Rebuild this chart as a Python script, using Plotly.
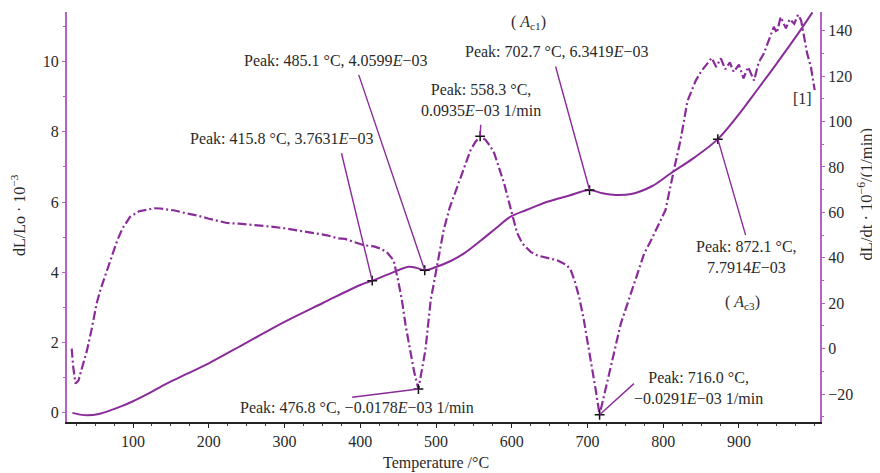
import plotly.graph_objects as go

# ---- data ----
temp_L = [20, 30, 40, 55, 70, 85, 100, 120, 145, 170, 200, 250, 300, 350, 400, 415.8, 440,
          464, 475, 485.1, 500, 520, 537, 560, 580, 598, 620, 647, 675, 702.7, 720, 737,
          758, 785, 810, 840, 872.1, 900, 924, 950, 975, 997]
dL_Lo = [0.0, -0.05, -0.07, -0.03, 0.07, 0.19, 0.33, 0.55, 0.84, 1.1, 1.41, 2.0, 2.59, 3.12,
         3.64, 3.763, 3.97, 4.16, 4.12, 4.06, 4.15, 4.33, 4.54, 4.92, 5.27, 5.58, 5.78, 6.01,
         6.18, 6.342, 6.25, 6.2, 6.23, 6.45, 6.82, 7.25, 7.791, 8.5, 9.19, 9.95, 10.7, 11.4]

temp_D = [19, 21, 24, 28, 33, 39, 45, 52, 57, 64, 70, 79, 86, 96, 108, 118, 128, 136, 145,
          155, 171, 185, 200, 212, 224, 240, 255, 268, 285, 300, 312, 330, 345, 356, 370,
          380, 391, 405, 418, 427, 435, 444, 450, 455, 460, 466, 471, 476.8, 481, 486, 493,
          497, 503, 510, 518, 528, 537, 545.6, 552, 558.3, 565, 572, 577, 584, 590, 596,
          601, 607, 614, 625, 634, 645, 660, 673, 678, 683, 689, 695, 700, 706, 711, 716,
          721, 726, 735, 744, 755, 766, 775, 783, 795, 803, 814, 823, 832, 838, 843, 850,
          858, 864, 870, 876, 882, 888, 893, 900, 906, 912, 920, 926, 933, 940, 946, 950,
          955, 962, 967, 973, 978, 982, 986, 990, 995, 1000]
dL_dt = [0, -8, -15.4, -14, -8, -1, 8, 20, 26, 33, 39.5, 47.5, 52.9, 58, 60.5, 61, 61.8,
         61.7, 61.2, 60.8, 59.5, 58.6, 57.2, 56.4, 55.3, 55.0, 54.6, 54.3, 53.6, 53.0, 52.4,
         51.5, 50.6, 49.9, 48.6, 48.3, 47, 45.5, 45.0, 44, 42.5, 38.9, 30, 21.3, 10, -0.7,
         -10, -17.8, -10, -0.7, 21.3, 28.6, 40, 52, 62, 71.2, 80, 87.4, 91, 93.5, 92, 89,
         85.9, 79, 72.7, 65, 58, 51, 46.3, 42.6, 41, 40, 38.9, 36.7, 34.5, 30, 22.7, 13,
         3.7, -8, -18.4, -29.1, -22, -15.4, -2, 11, 22, 33, 42, 47, 55, 61, 78.5, 92, 109,
         114, 118, 122, 125.5, 128, 124, 127.8, 123, 126, 121.8, 125, 119, 124, 118, 126,
         130, 136, 141.7, 139, 146, 141, 145, 143, 147, 144.6, 137.3, 130, 124, 113.8]

peak_L_T = [415.8, 485.1, 702.7, 872.1]
peak_L_V = [3.7631, 4.0599, 6.3419, 7.7914]
peak_D_T = [476.8, 558.3, 716.0]
peak_D_V = [-17.8, 93.5, -29.1]

x_ticks = [100, 200, 300, 400, 500, 600, 700, 800, 900]

PURPLE = "#8a2b9a"
AXP = "#b462c2"
TXT = "#2a2a2a"
FONT = "Liberation Serif"
FS = 16

fig = go.Figure()
fig.add_trace(go.Scatter(x=temp_L, y=dL_Lo, mode="lines", line=dict(color=PURPLE, width=2, shape="spline"),
                         yaxis="y", showlegend=False))
fig.add_trace(go.Scatter(x=temp_D, y=dL_dt, mode="lines",
                         line=dict(color=PURPLE, width=2.2, dash="9px,3px,2px,3px"),
                         yaxis="y2", showlegend=False))
fig.add_trace(go.Scatter(x=peak_L_T, y=peak_L_V, mode="markers", yaxis="y",
                         marker=dict(symbol="cross-thin", size=7, line=dict(color="#111", width=1.5)),
                         showlegend=False))
fig.add_trace(go.Scatter(x=peak_D_T, y=peak_D_V, mode="markers", yaxis="y2",
                         marker=dict(symbol="cross-thin", size=7, line=dict(color="#111", width=1.5)),
                         showlegend=False))

# leader lines (start -> peak marker)
leaders = [
    ("y", 375.2, 7.39, 415.8, 3.7631),
    ("y", 398.0, 9.62, 485.1, 4.0599),
    ("y2", 559.0, 98.6, 558.3, 93.5),
    ("y", 657.9, 9.86, 702.7, 6.3419),
    ("y", 908.8, 5.06, 872.1, 7.7914),
    ("y2", 761.3, -15.4, 716.0, -29.1),
    ("y2", 389.3, -21.4, 476.8, -17.8),
]
for yr, x0, y0, x1, y1 in leaders:
    fig.add_shape(type="line", xref="x", yref=yr, x0=x0, y0=y0, x1=x1, y1=y1,
                  line=dict(color=PURPLE, width=1.4))

labels = [
    (296, 7.8, "Peak: 415.8 °C, 3.7631<i>E</i>−03"),
    (367.5, 10.02, "Peak: 485.1 °C, 4.0599<i>E</i>−03"),
    (558.8, 8.9, "Peak: 558.3 °C,<br>0.0935<i>E</i>−03 1/min"),
    (622, 11.1, "( <i>A</i><sub>c1</sub>)"),
    (659, 10.28, "Peak: 702.7 °C, 6.3419<i>E</i>−03"),
    (910, 4.43, "Peak: 872.1 °C,<br>7.7914<i>E</i>−03"),
    (905, 3.15, "( <i>A</i><sub>c3</sub>)"),
    (847, 0.7, "Peak: 716.0 °C,<br>−0.0291<i>E</i>−03 1/min"),
    (395.6, 0.16, "Peak: 476.8 °C, −0.0178<i>E</i>−03 1/min"),
    (984, 8.96, "[1]"),
]
for x, y, t in labels:
    fig.add_annotation(x=x, y=y, xref="x", yref="y", text=t, showarrow=False,
                       font=dict(family=FONT, size=FS, color=TXT))

# axis titles
fig.add_annotation(x=-0.065, y=0.505, xref="paper", yref="paper", text="dL/Lo · 10<sup>−3</sup>",
                   textangle=-90, showarrow=False, xanchor="center", yanchor="middle",
                   font=dict(family=FONT, size=FS, color=TXT))
fig.add_annotation(x=1.061, y=0.555, xref="paper", yref="paper", text="dL/dt · 10<sup>−6</sup>/(1/min)",
                   textangle=-90, showarrow=False, xanchor="center", yanchor="middle",
                   font=dict(family=FONT, size=16.5, color=TXT))
fig.add_annotation(x=0.49, y=-0.1, xref="paper", yref="paper", text="Temperature /°C",
                   showarrow=False, xanchor="center", yanchor="middle",
                   font=dict(family=FONT, size=FS, color=TXT))

fig.update_layout(
    width=872, height=465,
    margin=dict(l=59, r=60, t=4, b=51.3),
    paper_bgcolor="white", plot_bgcolor="white",
    font=dict(family=FONT, size=FS, color=TXT),
    xaxis=dict(range=[12.8, 1007], tickvals=x_ticks, showgrid=False, zeroline=False,
               showline=True, linecolor="#222", linewidth=1.5, ticks="outside", ticklen=4,
               tickcolor="#222", minor=dict(dtick=25, ticks="outside", ticklen=2, tickcolor="#444"),
               tickfont=dict(family=FONT, size=FS, color=TXT)),
    yaxis=dict(range=[-0.26, 11.41], dtick=2, tick0=0, showgrid=False, zeroline=False,
               showline=True, linecolor=AXP, linewidth=2, ticks="outside", ticklen=3,
               tickcolor=AXP, minor=dict(dtick=1, ticks="outside", ticklen=2, tickcolor=AXP),
               tickfont=dict(family=FONT, size=FS, color=TXT)),
    yaxis2=dict(range=[-32.3, 148.2], dtick=20, tick0=0, overlaying="y", side="right",
                showgrid=False, zeroline=False, showline=True, linecolor=AXP, linewidth=2,
                ticks="outside", ticklen=3, tickcolor=AXP,
                minor=dict(dtick=10, ticks="outside", ticklen=2, tickcolor=AXP),
                tickfont=dict(family=FONT, size=FS, color=TXT)),
)

fig.write_html("out.html")
